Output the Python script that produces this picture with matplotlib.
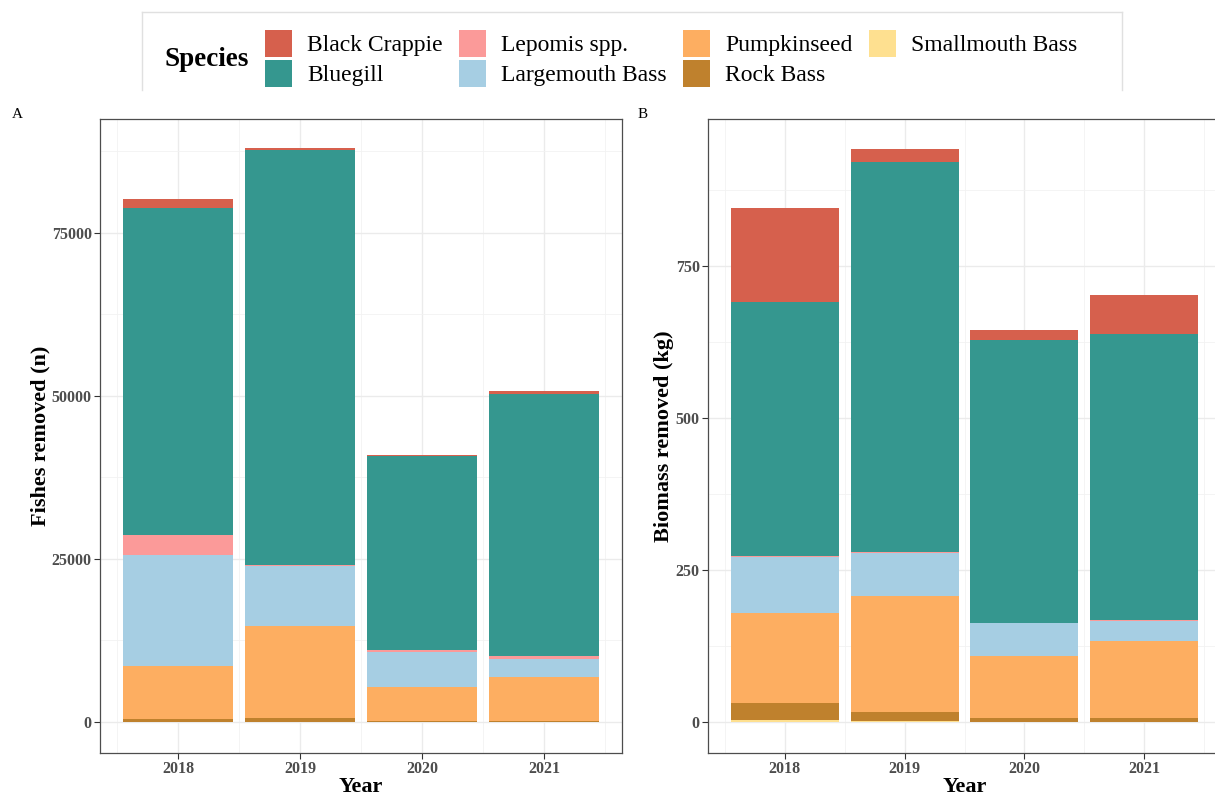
import numpy as np
import matplotlib
matplotlib.use("Agg")
import matplotlib.pyplot as plt
from matplotlib.patches import Patch
from matplotlib.lines import Line2D

plt.rcParams['font.family'] = ['Liberation Serif', 'DejaVu Serif']

years = ['2018', '2019', '2020', '2021']
# stacking order, bottom to top
species = ['Smallmouth Bass', 'Rock Bass', 'Pumpkinseed', 'Largemouth Bass',
           'Lepomis spp.', 'Bluegill', 'Black Crappie']
colors = ['#FEE090', '#BF812D', '#FDAE61', '#A6CEE3',
          '#FB9A99', '#35978F', '#D6604D']

# number of fish removed per species and year
count_smallmouth = [60, 40, 20, 20]
count_rockbass = [450, 560, 200, 200]
count_pumpkinseed = [8100, 14100, 5200, 6650]
count_largemouth = [17000, 9200, 5350, 2800]
count_lepomis = [3100, 200, 230, 400]
count_bluegill = [50100, 63700, 29800, 40200]
count_crappie = [1400, 200, 150, 500]

# biomass removed (kg) per species and year
mass_smallmouth = [4, 1, 0.5, 0.5]
mass_rockbass = [27, 15, 6, 6]
mass_pumpkinseed = [148, 192, 102, 126]
mass_largemouth = [92, 70, 54, 34]
mass_lepomis = [2, 1, 0.5, 0.5]
mass_bluegill = [418, 643, 465, 471]
mass_crappie = [154, 20, 17, 64]

counts = [count_smallmouth, count_rockbass, count_pumpkinseed, count_largemouth,
          count_lepomis, count_bluegill, count_crappie]
masses = [mass_smallmouth, mass_rockbass, mass_pumpkinseed, mass_largemouth,
          mass_lepomis, mass_bluegill, mass_crappie]

W, H = 1215, 798
fig = plt.figure(figsize=(W / 100, H / 100), dpi=100)

def px_axes(x0, x1, y0, y1):
    return fig.add_axes([x0 / W, 1 - y1 / H, (x1 - x0) / W, (y1 - y0) / H])

def stacked(ax, data, ylim, major, minor):
    x = np.arange(len(years))
    bottom = np.zeros(len(years))
    for vals, c in zip(data, colors):
        vals = np.array(vals, dtype=float)
        ax.bar(x, vals, width=0.9, bottom=bottom, color=c, linewidth=0, zorder=3)
        bottom += vals
    ax.set_xlim(-0.64, 3.64)
    ax.set_ylim(*ylim)
    ax.set_xticks(x)
    ax.set_xticklabels(years)
    ax.set_xticks(np.arange(-0.5, 4, 1), minor=True)
    ax.set_yticks(major)
    ax.set_yticks(minor, minor=True)
    ax.grid(which='major', color='#EBEBEB', linewidth=1.0, zorder=0)
    ax.grid(which='minor', color='#F2F2F2', linewidth=0.6, zorder=0)
    ax.tick_params(which='minor', length=0)
    ax.tick_params(which='major', length=4, color='#333333', width=0.8,
                   labelsize=11.5, labelcolor='#4D4D4D', pad=2)
    for lab in ax.get_xticklabels() + ax.get_yticklabels():
        lab.set_fontweight('bold')
    for s in ax.spines.values():
        s.set_color('#4D4D4D')
        s.set_linewidth(0.9)
    ax.set_xlabel('Year', fontsize=16, fontweight='bold', labelpad=0)

axA = px_axes(100, 622, 119, 753)
stacked(axA, counts, (-4755, 92480),
        [0, 25000, 50000, 75000], [12500, 37500, 62500, 87500])
axA.set_ylabel('Fishes removed (n)', fontsize=16, fontweight='bold', labelpad=1)

axB = px_axes(708, 1221, 119, 753)
stacked(axB, masses, (-51, 992),
        [0, 250, 500, 750], [125, 375, 625, 875])
axB.set_ylabel('Biomass removed (kg)', fontsize=16, fontweight='bold', labelpad=1)

fig.text(12 / W, 1 - 115 / H, 'A', fontsize=11, va='center', ha='left')
fig.text(638 / W, 1 - 115 / H, 'B', fontsize=11, va='center', ha='left')

# legend box (open at the bottom)
box_col = '#E0E0E0'
fig.add_artist(Line2D([142 / W, 1122 / W], [1 - 12 / H, 1 - 12 / H], color=box_col, lw=1))
fig.add_artist(Line2D([142 / W, 142 / W], [1 - 12 / H, 1 - 90 / H], color=box_col, lw=1))
fig.add_artist(Line2D([1122 / W, 1122 / W], [1 - 12 / H, 1 - 90 / H], color=box_col, lw=1))

fig.text(165 / W, 1 - 60 / H, 'Species', fontsize=19.5, fontweight='bold',
         va='center', ha='left')

order = ['Black Crappie', 'Bluegill', 'Lepomis spp.', 'Largemouth Bass',
         'Pumpkinseed', 'Rock Bass', 'Smallmouth Bass']
cmap = dict(zip(species, colors))
handles = [Patch(facecolor=cmap[s], edgecolor='none', label=s) for s in order]
fig.legend(handles=handles, ncol=4, loc='upper left',
           bbox_to_anchor=(265 / W, 1 - 30 / H), frameon=False,
           fontsize=17, handlelength=1.14, handleheight=1.38,
           handletextpad=0.64, columnspacing=0.7, labelspacing=0.127,
           borderpad=0, borderaxespad=0)

fig.savefig('out.png', dpi=100)
